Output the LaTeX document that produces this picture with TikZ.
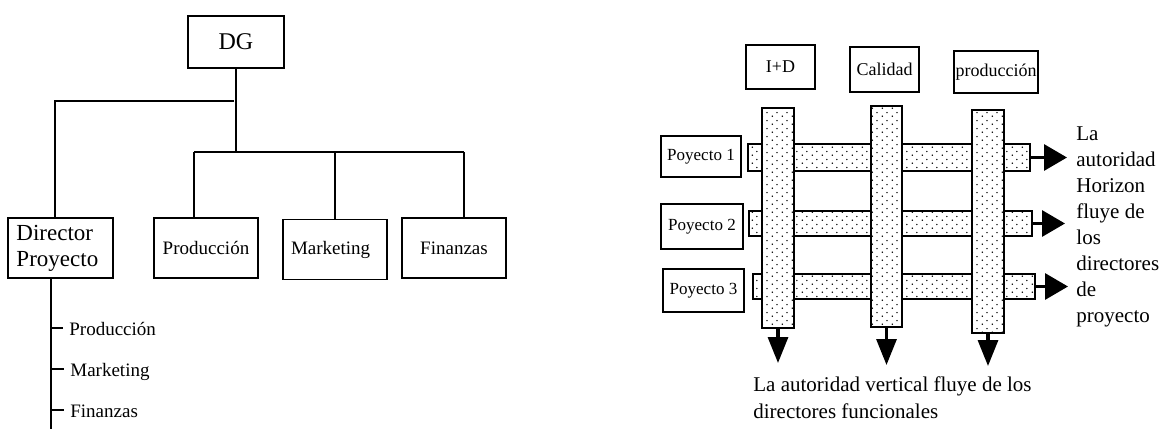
\documentclass[tikz,border=0pt]{standalone}
\usepackage{fontspec}
\setmainfont{Liberation Serif}
\usetikzlibrary{arrows.meta,patterns,positioning}
\pgfdeclarepatternformonly{sparsedots}{\pgfpointorigin}{\pgfqpoint{5pt}{4pt}}{\pgfqpoint{5pt}{4pt}}{%
  \pgfpathcircle{\pgfqpoint{1.25pt}{1pt}}{0.45pt}%
  \pgfpathcircle{\pgfqpoint{3.75pt}{3pt}}{0.45pt}%
  \pgfusepath{fill}}

\begin{document}
\begin{tikzpicture}[x=0.5pt,y=-0.5pt,
    box/.style={draw,line width=0.9pt,inner sep=1pt},
    dept/.style={box,minimum width=52pt,minimum height=30pt,font=\fontsize{9.5}{11}\selectfont},
    sub/.style={anchor=west,inner xsep=3pt,inner ysep=0pt,text height=7pt,text depth=0pt,font=\fontsize{9.5}{11}\selectfont},
    link/.style={line width=0.75pt},
    rbox/.style={box,inner sep=0.5pt,font=\fontsize{9}{11}\selectfont},
    pbox/.style={box,inner sep=0.5pt,font=\fontsize{8.5}{10}\selectfont},
    bar/.style={draw,line width=1pt,inner sep=0pt,outer sep=0pt,preaction={fill=white},pattern=sparsedots},
    hflow/.style={line width=1.6pt,-{Triangle[length=11.5pt,width=13pt]}},
    vflow/.style={line width=1.6pt,-{Triangle[length=13pt,width=10pt]}},
    note/.style={align=left,inner sep=0pt,anchor=north west}]
  \useasboundingbox (0,0) rectangle (1162,429);

  % organigrama
  \node[box,minimum width=48pt,minimum height=26pt,font=\fontsize{12}{14}\selectfont] (dg) at (236,42) {DG};
  \node[box,minimum width=52.5pt,minimum height=30pt,text width=44pt,align=left,
        font=\fontsize{11.5}{13}\selectfont] (dir) at (60.5,248) {Director\\Proyecto};
  \node[dept] (prod) at (206,248) {Producción};
  \node[dept,text width=44pt,align=left] (mkt) at (335,249.5) {Marketing};
  \node[dept] (fin) at (454,248) {Finanzas};

  \coordinate (split) at (234,101);
  \coordinate (busL) at (194,152);
  \coordinate (busR) at (464,152);
  \draw[link] (dg.south) -- (dg.south |- busL);
  \draw[link] (split) -| ([xshift=-2.75pt]dir.north);
  \draw[link] (busL) -- (busR);
  \draw[link] (busL) -- (busL |- prod.north);
  \draw[link] (mkt.north) -- (mkt.north |- busL);
  \draw[link] (busR) -- (busR |- fin.north);

  % lista del director
  \coordinate (spine) at (51,429);
  \draw[link] ([xshift=-4.75pt]dir.south) -- (spine);
  \node[sub] (sprod) at (63,328) {Producción};
  \node[sub] (smkt) at (64,369) {Marketing};
  \node[sub] (sfin) at (64,410) {Finanzas};
  \draw[link] (spine |- sprod.west) -- (sprod.west);
  \draw[link] (spine |- smkt.west) -- (smkt.west);
  \draw[link] (spine |- sfin.west) -- (sfin.west);

  % matriz
  \node[rbox,minimum width=34.5pt,minimum height=22pt] (idd) at (780.5,67) {I+D};
  \node[rbox,minimum width=34.5pt,minimum height=22.5pt] (cal) at (884.5,69.5) {Calidad};
  \node[rbox,minimum width=42pt,minimum height=21pt] (pro) at (996,72) {producción};
  \node[pbox,minimum width=40pt,minimum height=20.5pt] (p1) at (701,156.5) {Poyecto 1};
  \node[pbox,minimum width=41pt,minimum height=22.5pt] (p2) at (702,226.5) {Poyecto 2};
  \node[pbox,minimum width=40.5pt,minimum height=21.5pt] (p3) at (703.5,290.5) {Poyecto 3};

  \node[bar,minimum width=141pt,minimum height=13.5pt] (h1) at (889,157.5) {};
  \node[bar,minimum width=141.5pt,minimum height=12.5pt] (h2) at (890.5,223.5) {};
  \node[bar,minimum width=141pt,minimum height=12.5pt] (h3) at (894,286.5) {};
  \node[bar,minimum width=16pt,minimum height=110pt] (v1) at (778,218) {};
  \node[bar,minimum width=15.5pt,minimum height=110.5pt] (v2) at (886.5,216.5) {};
  \node[bar,minimum width=16pt,minimum height=111.5pt] (v3) at (988,221.5) {};

  \coordinate (e1) at (1067,157.5);
  \coordinate (e2) at (1065,223.5);
  \coordinate (e3) at (1068,286.5);
  \draw[hflow] (h1.east) -- (e1);
  \draw[hflow] (h2.east) -- (e2);
  \draw[hflow] (h3.east) -- (e3);
  \coordinate (s1) at (778,363);
  \coordinate (s2) at (886.5,365);
  \coordinate (s3) at (988,366);
  \draw[vflow] (v1.south) -- (s1);
  \draw[vflow] (v2.south) -- (s2);
  \draw[vflow] (v3.south) -- (s3);

  \node[note,font=\fontsize{10.5}{13}\selectfont] (horiz) at (1076,126)
    {La\\autoridad\\Horizon\\fluye de\\los\\directores\\de\\proyecto};
  \node[note,font=\fontsize{10.5}{13.5}\selectfont] (vert) at (753,376)
    {La autoridad vertical fluye de los\\directores funcionales};
\end{tikzpicture}
\end{document}
